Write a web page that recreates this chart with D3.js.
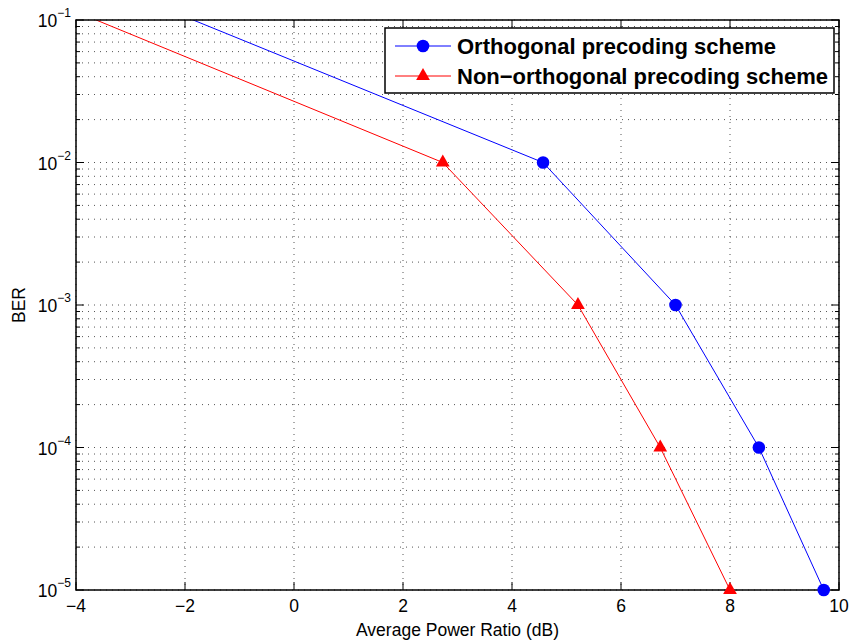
<!DOCTYPE html>
<html><head><meta charset="utf-8">
<script src="https://cdn.jsdelivr.net/npm/d3@7"></script>
<style>body{margin:0;background:#fff}svg{display:block}text{font-family:"Liberation Sans",Arial,sans-serif}</style>
</head><body><svg id="c" width="851" height="643"></svg>
<script>
const xTicks=[-4,-2,0,2,4,6,8,10];
const yTicksExp=[-5,-4,-3,-2,-1];
const seriesNames=["Orthogonal precoding scheme","Non\u2212orthogonal precoding scheme"];
const orthX=[-8.27,4.57,7.0,8.53,9.72];
const orthY=[1,1e-2,1e-3,1e-4,1e-5];
const nonX=[-9.99,2.73,5.21,6.72,8.0];
const nonY=[1,1e-2,1e-3,1e-4,1e-5];

const svg=d3.select("#c");
const L=76,R=839,T=20,B=590;
const x=d3.scaleLinear().domain([-4,10]).range([L,R]);
const y=d3.scaleLog().domain([1e-5,1e-1]).range([B,T]);

// grid
const g=svg.append("g");
const minor=[];
for(let e=-5;e<-1;e++)for(let m=1;m<10;m++)minor.push(m*Math.pow(10,e));
minor.push(1e-1);
g.selectAll(".hg").data(minor).join("line").attr("x1",L).attr("x2",R)
 .attr("y1",d=>y(d)).attr("y2",d=>y(d)).attr("stroke","#555").attr("stroke-width",1).attr("stroke-dasharray","1,5");
g.selectAll(".vg").data(xTicks).join("line").attr("y1",T).attr("y2",B)
 .attr("x1",d=>x(d)).attr("x2",d=>x(d)).attr("stroke","#555").attr("stroke-width",1).attr("stroke-dasharray","1,5");

// ticks
const tk=svg.append("g").attr("stroke","#000").attr("stroke-width",1);
xTicks.forEach(v=>{
  tk.append("line").attr("x1",x(v)).attr("x2",x(v)).attr("y1",B).attr("y2",B-8);
  tk.append("line").attr("x1",x(v)).attr("x2",x(v)).attr("y1",T).attr("y2",T+8);
});
minor.forEach(v=>{
  const isMaj=Math.abs(Math.log10(v)-Math.round(Math.log10(v)))<1e-9;
  const len=isMaj?8:4;
  tk.append("line").attr("x1",L).attr("x2",L+len).attr("y1",y(v)).attr("y2",y(v));
  tk.append("line").attr("x1",R).attr("x2",R-len).attr("y1",y(v)).attr("y2",y(v));
});

// clip for lines
svg.append("clipPath").attr("id","clp").append("rect").attr("x",L).attr("y",T).attr("width",R-L).attr("height",B-T);
const line=d3.line().x(d=>x(d[0])).y(d=>y(d[1]));
const orth=orthX.map((v,i)=>[v,orthY[i]]);
const non=nonX.map((v,i)=>[v,nonY[i]]);
const pg=svg.append("g").attr("clip-path","url(#clp)");
pg.append("path").attr("d",line(orth)).attr("fill","none").attr("stroke","#0000ff").attr("stroke-width",1);
pg.append("path").attr("d",line(non)).attr("fill","none").attr("stroke","#ff0000").attr("stroke-width",1);

// axes frame
svg.append("rect").attr("x",L).attr("y",T).attr("width",R-L).attr("height",B-T).attr("fill","none").attr("stroke","#000").attr("stroke-width",1.5);

// markers (not clipped, like MATLAB)
const mg=svg.append("g");
mg.selectAll(".c").data(orth.filter(d=>d[1]<=1e-1)).join("circle").attr("cx",d=>x(d[0])).attr("cy",d=>y(d[1])).attr("r",6.3).attr("fill","#0000ff");
const tri=d3.symbol().type(d3.symbolTriangle).size(82);
mg.selectAll(".t").data(non.filter(d=>d[1]<=1e-1)).join("path").attr("d",tri).attr("transform",d=>`translate(${x(d[0])},${y(d[1])})`).attr("fill","#ff0000");

// tick labels
svg.selectAll(".xl").data(xTicks).join("text").attr("x",d=>x(d)).attr("y",B+22).attr("text-anchor","middle")
 .attr("font-size",17.5).text(d=>d<0?"\u2212"+Math.abs(d):d);
yTicksExp.forEach(e=>{
  const t=svg.append("text").attr("x",L-5).attr("y",y(Math.pow(10,e))+7).attr("text-anchor","end").attr("font-size",17.5);
  t.append("tspan").text("10");
  t.append("tspan").attr("dy",-10).attr("font-size",12).text("\u2212"+Math.abs(e));
});

// axis titles
svg.append("text").attr("x",(L+R)/2).attr("y",636).attr("text-anchor","middle").attr("font-size",17.5).text("Average Power Ratio (dB)");
svg.append("text").attr("transform","translate(25,305) rotate(-90)").attr("text-anchor","middle").attr("font-size",17.5).text("BER");

// legend
const lg=svg.append("g");
lg.append("rect").attr("x",385).attr("y",28).attr("width",449).attr("height",65).attr("fill","#fff").attr("stroke","#000").attr("stroke-width",1.5);
const rows=[{n:seriesNames[0],c:"#0000ff",m:"circle",yy:46},{n:seriesNames[1],c:"#ff0000",m:"tri",yy:76}];
rows.forEach(r=>{
  lg.append("line").attr("x1",395).attr("x2",451).attr("y1",r.yy).attr("y2",r.yy).attr("stroke",r.c).attr("stroke-width",1);
  if(r.m==="circle")lg.append("circle").attr("cx",423).attr("cy",r.yy).attr("r",6.3).attr("fill",r.c);
  else lg.append("path").attr("d",tri).attr("transform",`translate(423,${r.yy})`).attr("fill",r.c);
  lg.append("text").attr("x",457).attr("y",r.yy+8).attr("font-size",22).attr("font-weight","bold").text(r.n);
});
</script></body></html>
